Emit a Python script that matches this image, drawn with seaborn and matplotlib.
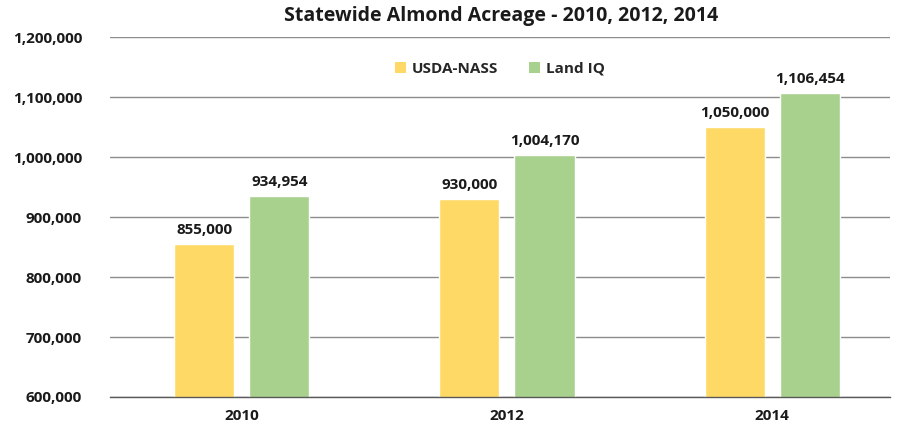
import matplotlib
matplotlib.use("Agg")
import matplotlib.pyplot as plt
import seaborn as sns
import pandas as pd
from matplotlib.ticker import FuncFormatter, MultipleLocator
from matplotlib.patches import Patch

years = ["2010", "2012", "2014"]
usda_nass = [855000, 930000, 1050000]
land_iq = [934954, 1004170, 1106454]
series_names = ["USDA-NASS", "Land IQ"]
colors = ["#FFD966", "#A9D18E"]

df = pd.DataFrame({
    "Year": years * 2,
    "Acres": usda_nass + land_iq,
    "Source": [series_names[0]] * 3 + [series_names[1]] * 3,
})

sns.set_theme(style="white")
plt.rcParams['font.family'] = ['Open Sans', 'DejaVu Sans']

fig = plt.figure(figsize=(9, 4.29), dpi=100)
ax = fig.add_axes([0.122, 0.0746, 0.867, 0.839])

sns.barplot(data=df, x="Year", y="Acres", hue="Source", palette=colors,
            width=0.566, gap=0.2, ax=ax, legend=False, saturation=1)

ax.set_xlim(-0.498, 2.445)
ax.set_ylim(600000, 1200000)
ax.yaxis.set_major_locator(MultipleLocator(100000))
ax.yaxis.set_major_formatter(FuncFormatter(lambda v, p: f"{int(v):,}"))
ax.grid(axis="y", color="#8c8c8c", linewidth=1)
ax.set_axisbelow(True)
for s in ["top", "right", "left"]:
    ax.spines[s].set_visible(False)
ax.spines["bottom"].set_color("#595959")
ax.spines["bottom"].set_linewidth(1)
ax.set_xlabel("")
ax.set_ylabel("")
ax.tick_params(axis="y", length=0, pad=20, labelsize=11)
ax.tick_params(axis="x", length=0, pad=9, labelsize=11)
for lab in ax.get_xticklabels() + ax.get_yticklabels():
    lab.set_fontweight("bold")
    lab.set_color("#1a1a1a")

for cont in ax.containers:
    ax.bar_label(cont, labels=[f"{int(v):,}" for v in cont.datavalues],
                 padding=5, fontsize=11, fontweight="bold", color="#1a1a1a")

handles = [Patch(facecolor=c, edgecolor="none") for c in colors]
ax.legend(handles, series_names, loc="upper center", bbox_to_anchor=(0.5, 0.97),
          ncol=2, frameon=False, handlelength=0.7, handleheight=0.7,
          columnspacing=2.0, handletextpad=0.4,
          prop={"weight": "bold", "size": 11})

fig.suptitle("Statewide Almond Acreage - 2010, 2012, 2014", x=0.557, y=0.985,
             fontsize=14, fontweight="bold", color="#1a1a1a")

fig.savefig("out.png", dpi=100)
